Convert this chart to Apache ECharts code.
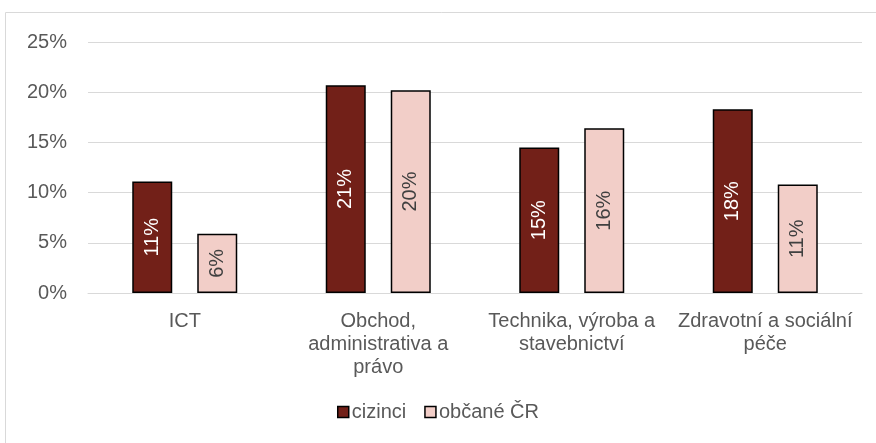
<!DOCTYPE html>
<html><head><meta charset="utf-8">
<script src="https://cdn.jsdelivr.net/npm/echarts@6/dist/echarts.min.js"></script>
<style>html,body{margin:0;padding:0;background:#fff}#c{width:876px;height:443px}</style>
</head><body><div id="c"></div>
<script>
const categories = ['ICT', 'Obchod,\nadministrativa a\nprávo', 'Technika, výroba a\nstavebnictví', 'Zdravotní a sociální\npéče'];
const cizinci = [11.1, 20.7, 14.5, 18.3];
const obcaneCR = [5.9, 20.2, 16.4, 10.8];
const yTicks = [0, 5, 10, 15, 20, 25];

const chart = echarts.init(document.getElementById('c'));
const font = 'Liberation Sans, Arial, sans-serif';
chart.setOption({
  animation: false,
  textStyle: { fontFamily: font },
  graphic: [{ type: 'rect', shape: { x: 5.5, y: 12.5, width: 880, height: 440 }, style: { fill: null, stroke: '#d9d9d9', lineWidth: 1 }, silent: true }],
  grid: { left: 88, right: 14, top: 42, bottom: 150 },
  legend: {
    bottom: 16, left: 'center', itemWidth: 11, itemHeight: 11, itemGap: 18,
    textStyle: { fontSize: 20, color: '#595959', fontFamily: font, padding: [0, 0, 0, -2] },
    data: [
      { name: 'cizinci', icon: 'rect', itemStyle: { color: '#722018', borderColor: '#000', borderWidth: 1.5 } },
      { name: 'občané ČR', icon: 'rect', itemStyle: { color: '#F2CEC8', borderColor: '#000', borderWidth: 1.5 } }
    ]
  },
  xAxis: {
    type: 'category', data: categories,
    axisLine: { lineStyle: { color: '#d9d9d9', width: 1 } },
    axisTick: { show: false },
    axisLabel: { fontSize: 20, color: '#595959', lineHeight: 23, margin: 17, interval: 0, fontFamily: font }
  },
  yAxis: {
    type: 'value', min: yTicks[0], max: yTicks[yTicks.length - 1], interval: 5,
    axisLabel: { formatter: '{value}%', fontSize: 20, color: '#595959', margin: 21, fontFamily: font },
    splitLine: { lineStyle: { color: '#d9d9d9', width: 1 } },
    axisLine: { show: false }, axisTick: { show: false }
  },
  series: [
    {
      name: 'cizinci', type: 'bar', data: cizinci, barWidth: 40, barGap: '62.5%',
      itemStyle: { color: '#722018', borderColor: '#000', borderWidth: 1.5 },
      label: { show: true, position: 'inside', rotate: 90, color: '#fff', fontSize: 20, fontFamily: font,
        formatter: p => Math.round(p.value) + '%' }
    },
    {
      name: 'občané ČR', type: 'bar', data: obcaneCR, barWidth: 40,
      itemStyle: { color: '#F2CEC8', borderColor: '#000', borderWidth: 1.5 },
      label: { show: true, position: 'inside', rotate: 90, color: '#404040', fontSize: 20, fontFamily: font,
        formatter: p => Math.round(p.value) + '%' }
    }
  ]
});
</script></body></html>
